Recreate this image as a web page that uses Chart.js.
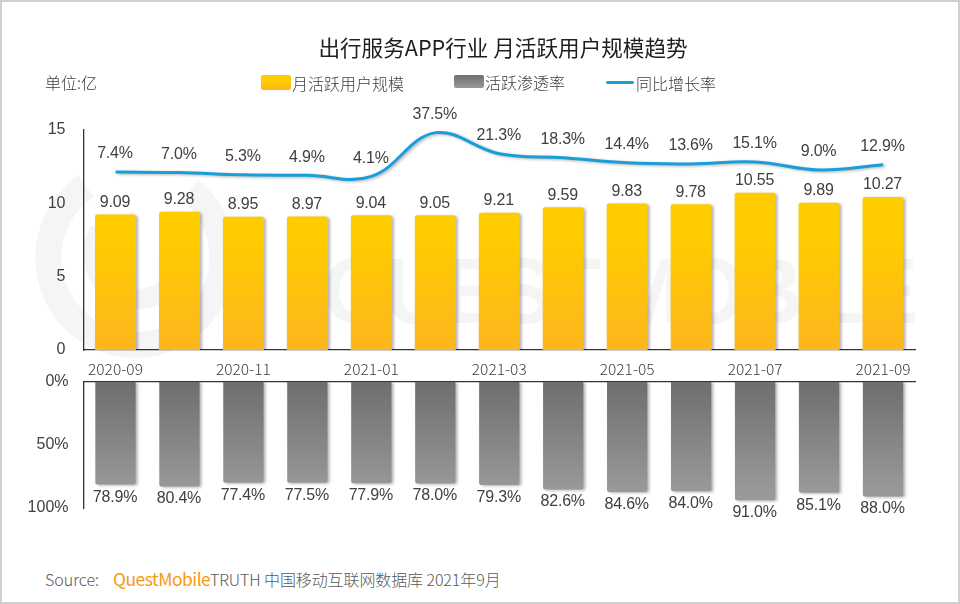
<!DOCTYPE html>
<html>
<head>
<meta charset="utf-8">
<script src="https://cdn.jsdelivr.net/npm/chart.js@4"></script>
<style>
html,body{margin:0;padding:0;background:#fff;}
#page{position:relative;width:960px;height:604px;overflow:hidden;font-family:"Noto Sans CJK SC",sans-serif;color:#404040;}
#frame{position:absolute;left:0;top:0;width:956px;height:600px;border:2px solid #d0d0d0;}
#mark{position:absolute;left:0;top:0;}
canvas{position:absolute;left:0;}
.txt{position:absolute;white-space:nowrap;line-height:20px;font-size:16px;font-weight:300;}
.swatch{position:absolute;border-radius:2px;}
</style>
</head>
<body>
<div id="page">
  <div id="frame"></div>
  <svg id="mark" width="960" height="604">
    <g fill="none" stroke="#f5f5f5" stroke-width="26">
      <path d="M 86 186 A 87 87 0 1 0 190 190"/>
      <path d="M 100 230 A 45 45 0 1 0 170 222" stroke-width="20"/>
    </g>
    <text x="322" y="323" font-family="Liberation Sans" font-weight="bold" font-size="92" textLength="596" fill="#f5f5f5">QUEST MOBILE</text>
  </svg>
  <canvas id="topChart" width="960" height="400" style="top:0;width:960px;height:400px"></canvas>
  <canvas id="bottomChart" width="960" height="170" style="top:370px;width:960px;height:170px"></canvas>

  <div class="txt" style="left:0;width:1006px;text-align:center;top:35px;font-size:21.6px;font-weight:400;line-height:24px;color:#1f1f1f">出行服务APP行业 月活跃用户规模趋势</div>
  <div class="txt" style="left:45px;top:72px">单位:亿</div>

  <div class="swatch" style="left:261px;top:75px;width:30px;height:15px;background:linear-gradient(#ffcc00 40%,#fdb61f)"></div>
  <div class="txt" style="left:292px;top:73px">月活跃用户规模</div>
  <div class="swatch" style="left:454px;top:75px;width:30px;height:13px;background:linear-gradient(#6f6f6f,#999)"></div>
  <div class="txt" style="left:485px;top:72px">活跃渗透率</div>
  <div class="swatch" style="left:606px;top:81px;width:28px;height:3px;background:#1a9ed9"></div>
  <div class="txt" style="left:636px;top:73px">同比增长率</div>

  <div class="txt" style="left:45px;top:569px;color:#595959">Source:</div>
  <div class="txt" style="left:113px;top:569px;color:#f79a0e;font-size:17.5px;font-weight:400;letter-spacing:-0.5px">QuestMobile</div>
  <div class="txt" style="left:210px;top:569px;color:#595959;letter-spacing:-0.1px">TRUTH 中国移动互联网数据库 2021年9月</div>
</div>

<script>
var months = ["2020-09","2020-10","2020-11","2020-12","2021-01","2021-02","2021-03","2021-04","2021-05","2021-06","2021-07","2021-08","2021-09"];
var mauValues = [9.09,9.28,8.95,8.97,9.04,9.05,9.21,9.59,9.83,9.78,10.55,9.89,10.27];
var yoyValues = [7.4,7.0,5.3,4.9,4.1,37.5,21.3,18.3,14.4,13.6,15.1,9.0,12.9];
var penetrationValues = [78.9,80.4,77.4,77.5,77.9,78.0,79.3,82.6,84.6,84.0,91.0,85.1,88.0];
var mauTicks = [0,5,10,15];
var penetrationTicks = [0,50,100];

var labelFont = '16px "Liberation Sans"';
var textColor = '#404040';
var axisColor = '#333333';

// value labels + soft shadow under the marks, no datalabels plugin here
var markStyle = {
  id: 'markStyle',
  beforeDatasetDraw: function(chart){
    var c = chart.ctx;
    c.save();
    c.shadowColor = 'rgba(0,0,0,0.3)';
    c.shadowBlur = 3;
    c.shadowOffsetX = 2;
    c.shadowOffsetY = 1;
  },
  afterDatasetDraw: function(chart){
    chart.ctx.restore();
  },
  afterDatasetsDraw: function(chart){
    var c = chart.ctx;
    c.save();
    c.font = labelFont;
    c.letterSpacing = '-0.2px';
    c.fillStyle = textColor;
    c.textAlign = 'center';
    c.textBaseline = 'middle';
    chart.data.datasets.forEach(function(ds, i){
      chart.getDatasetMeta(i).data.forEach(function(el, k){
        c.fillText(ds.labelText(ds.data[k]), el.x - 0.5, el.y + ds.labelOffset);
      });
    });
    c.restore();
  }
};

function barGradient(context, from, to, top, bottom){
  var chart = context.chart;
  if(!chart.chartArea) return from;
  var g = chart.ctx.createLinearGradient(0, top, 0, bottom);
  g.addColorStop(0, from);
  g.addColorStop(1, to);
  return g;
}

function fixY(s){
  s.width = 83.5;
  s.paddingTop = 0;
  s.paddingBottom = 0;
}

new Chart(document.getElementById("topChart"), {
  type: 'bar',
  data: {
    labels: months,
    datasets: [{
      type: 'line',
      data: yoyValues,
      yAxisID: 'yLine',
      borderColor: '#1a9ed9',
      borderWidth: 3,
      pointRadius: 0,
      tension: 0.4,
      clip: false,
      labelOffset: -18,
      labelText: function(v){ return v.toFixed(1) + '%'; }
    },{
      data: mauValues,
      yAxisID: 'yBar',
      backgroundColor: function(context){ return barGradient(context, '#ffcc00', '#fdb61f', 240, 350); },
      borderRadius: 2,
      barPercentage: 0.64,
      categoryPercentage: 1,
      labelOffset: -12,
      labelText: function(v){ return v.toFixed(2); }
    }]
  },
  options: {
    responsive: false,
    animation: false,
    layout: {padding: {left: 0, right: 45, top: 130, bottom: 0}},
    plugins: {legend: {display: false}, title: {display: false}, tooltip: {enabled: false}},
    scales: {
      x: {
        grid: {display: false},
        border: {display: true, color: axisColor, width: 1.3},
        afterFit: function(s){ s.height = 50; s.paddingLeft = 0; s.paddingRight = 0; },
        ticks: {
          autoSkip: false, maxRotation: 0, padding: 2, color: textColor,
          font: {family: '"Noto Sans CJK SC"', size: 15.5, weight: '300'},
          callback: function(v, i){ return i % 2 ? '' : months[i]; }
        }
      },
      y: {
        min: 0, max: 15,
        afterFit: fixY,
        afterBuildTicks: function(s){ s.ticks = mauTicks.map(function(v){ return {value: v}; }); },
        grid: {display: false, drawTicks: false},
        border: {display: true, color: axisColor, width: 1.3},
        ticks: {padding: 18, color: textColor, font: {family: 'Liberation Sans', size: 16}}
      },
      yBar: {display: false, min: 0, max: 14.77},
      yLine: {display: false, min: -128.5, max: 39.5}
    }
  },
  plugins: [markStyle]
});

new Chart(document.getElementById("bottomChart"), {
  type: 'bar',
  data: {
    labels: months,
    datasets: [{
      data: penetrationValues,
      yAxisID: 'yBar',
      backgroundColor: function(context){ return barGradient(context, '#6e6e6e', '#999999', 12, 120); },
      borderRadius: 2,
      barPercentage: 0.63,
      categoryPercentage: 1,
      labelOffset: 12.5,
      labelText: function(v){ return v.toFixed(1) + '%'; }
    }]
  },
  options: {
    responsive: false,
    animation: false,
    layout: {padding: {left: 0, right: 45, top: 12, bottom: 32}},
    plugins: {legend: {display: false}, title: {display: false}, tooltip: {enabled: false}},
    scales: {
      x: {
        position: 'top',
        grid: {display: false},
        border: {display: true, color: axisColor, width: 1.3},
        ticks: {display: false},
        afterFit: function(s){ s.height = 0; s.paddingLeft = 0; s.paddingRight = 0; }
      },
      y: {
        min: 0, max: 100, reverse: true,
        afterFit: fixY,
        afterBuildTicks: function(s){ s.ticks = penetrationTicks.map(function(v){ return {value: v}; }); },
        grid: {display: false, drawTicks: false},
        border: {display: true, color: axisColor, width: 1.3},
        ticks: {
          padding: 15, color: textColor, font: {family: 'Liberation Sans', size: 16},
          callback: function(v){ return v + '%'; }
        }
      },
      yBar: {display: false, min: 0, max: 96.9, reverse: true}
    }
  },
  plugins: [markStyle]
});
</script>
</body>
</html>
